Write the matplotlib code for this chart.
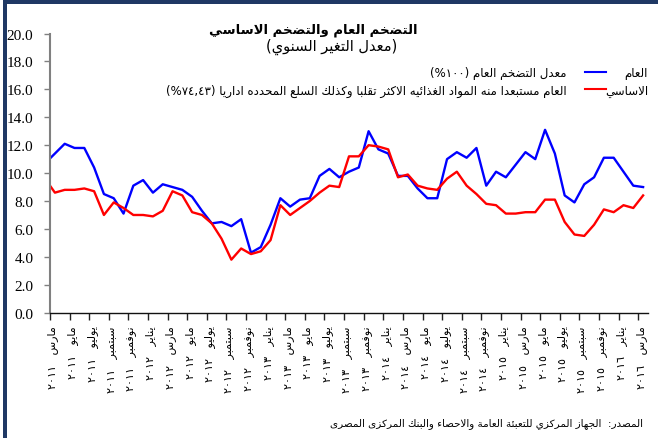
import matplotlib
matplotlib.use('Agg')
import matplotlib.pyplot as plt
from matplotlib.lines import Line2D
from matplotlib.patches import Rectangle
import numpy as np

# Arabic letter forms: isolated, final, initial, medial
FORMS = {
    'ء': ('\uFE80', None, None, None),
    'آ': ('\uFE81', '\uFE82', None, None),
    'أ': ('\uFE83', '\uFE84', None, None),
    'ؤ': ('\uFE85', '\uFE86', None, None),
    'إ': ('\uFE87', '\uFE88', None, None),
    'ئ': ('\uFE89', '\uFE8A', '\uFE8B', '\uFE8C'),
    'ا': ('\uFE8D', '\uFE8E', None, None),
    'ب': ('\uFE8F', '\uFE90', '\uFE91', '\uFE92'),
    'ة': ('\uFE93', '\uFE94', None, None),
    'ت': ('\uFE95', '\uFE96', '\uFE97', '\uFE98'),
    'ث': ('\uFE99', '\uFE9A', '\uFE9B', '\uFE9C'),
    'ج': ('\uFE9D', '\uFE9E', '\uFE9F', '\uFEA0'),
    'ح': ('\uFEA1', '\uFEA2', '\uFEA3', '\uFEA4'),
    'خ': ('\uFEA5', '\uFEA6', '\uFEA7', '\uFEA8'),
    'د': ('\uFEA9', '\uFEAA', None, None),
    'ذ': ('\uFEAB', '\uFEAC', None, None),
    'ر': ('\uFEAD', '\uFEAE', None, None),
    'ز': ('\uFEAF', '\uFEB0', None, None),
    'س': ('\uFEB1', '\uFEB2', '\uFEB3', '\uFEB4'),
    'ش': ('\uFEB5', '\uFEB6', '\uFEB7', '\uFEB8'),
    'ص': ('\uFEB9', '\uFEBA', '\uFEBB', '\uFEBC'),
    'ض': ('\uFEBD', '\uFEBE', '\uFEBF', '\uFEC0'),
    'ط': ('\uFEC1', '\uFEC2', '\uFEC3', '\uFEC4'),
    'ظ': ('\uFEC5', '\uFEC6', '\uFEC7', '\uFEC8'),
    'ع': ('\uFEC9', '\uFECA', '\uFECB', '\uFECC'),
    'غ': ('\uFECD', '\uFECE', '\uFECF', '\uFED0'),
    'ف': ('\uFED1', '\uFED2', '\uFED3', '\uFED4'),
    'ق': ('\uFED5', '\uFED6', '\uFED7', '\uFED8'),
    'ك': ('\uFED9', '\uFEDA', '\uFEDB', '\uFEDC'),
    'ل': ('\uFEDD', '\uFEDE', '\uFEDF', '\uFEE0'),
    'م': ('\uFEE1', '\uFEE2', '\uFEE3', '\uFEE4'),
    'ن': ('\uFEE5', '\uFEE6', '\uFEE7', '\uFEE8'),
    'ه': ('\uFEE9', '\uFEEA', '\uFEEB', '\uFEEC'),
    'و': ('\uFEED', '\uFEEE', None, None),
    'ى': ('\uFEEF', '\uFEF0', None, None),
    'ي': ('\uFEF1', '\uFEF2', '\uFEF3', '\uFEF4'),
}
LAMALEF = {'ا': ('\uFEFB', '\uFEFC'), 'أ': ('\uFEF7', '\uFEF8'),
           'إ': ('\uFEF9', '\uFEFA'), 'آ': ('\uFEF5', '\uFEF6')}
DIGITS = set('٠١٢٣٤٥٦٧٨٩0123456789')
MIRROR = {'(': ')', ')': '('}


def shape(text):
    items = []
    i = 0
    while i < len(text):
        c = text[i]
        if c == 'ل' and i + 1 < len(text) and text[i + 1] in LAMALEF:
            items.append(('la', text[i + 1]))
            i += 2
        else:
            items.append(c)
            i += 1

    def dual(it):
        return isinstance(it, str) and it in FORMS and FORMS[it][2] is not None

    def joins(it):
        return isinstance(it, tuple) or (it in FORMS and FORMS[it][1] is not None)

    out = []
    for n, it in enumerate(items):
        prev = items[n - 1] if n > 0 else None
        nxt = items[n + 1] if n + 1 < len(items) else None
        lp = prev is not None and dual(prev) and joins(it)
        if isinstance(it, tuple):
            iso, fin = LAMALEF[it[1]]
            out.append(fin if lp else iso)
            continue
        if it not in FORMS:
            out.append(it)
            continue
        ln = dual(it) and nxt is not None and joins(nxt)
        iso, fin, ini, med = FORMS[it]
        out.append(med if lp and ln else fin if lp else ini if ln else iso)
    return ''.join(out)


def ar(text):
    # shape letters, then lay the runs out right to left
    s = shape(text)
    runs = []
    i = 0
    while i < len(s):
        j = i
        if s[i] in DIGITS:
            while j < len(s) and (s[j] in DIGITS or (s[j] in ',.' and j + 1 < len(s) and s[j + 1] in DIGITS)):
                j += 1
            runs.append(s[i:j])
        else:
            while j < len(s) and s[j] not in DIGITS:
                j += 1
            runs.append(''.join(MIRROR.get(c, c) for c in reversed(s[i:j])))
        i = j
    return ''.join(reversed(runs))


# data: Feb 2011 .. Mar 2016 (Feb 2011 sits just left of the axis)
headline = [10.7, 11.4, 12.1, 11.8, 11.8, 10.4, 8.5, 8.2, 7.1, 9.1, 9.5, 8.6,
            9.2, 9.0, 8.8, 8.3, 7.3, 6.4, 6.5, 6.2, 6.7, 4.3, 4.7, 6.3,
            8.2, 7.6, 8.1, 8.2, 9.8, 10.3, 9.7, 10.1, 10.4, 13.0, 11.7, 11.4,
            9.8, 9.8, 8.9, 8.2, 8.2, 11.0, 11.5, 11.1, 11.8, 9.1, 10.1, 9.7,
            10.6, 11.5, 11.0, 13.1, 11.4, 8.4, 7.9, 9.2, 9.7, 11.1, 11.1, 10.1,
            9.1, 9.0]
core = [9.6, 8.6, 8.8, 8.8, 8.9, 8.7, 7.0, 7.9, 7.5, 7.0, 7.0, 6.9,
        7.3, 8.7, 8.4, 7.2, 7.0, 6.4, 5.3, 3.8, 4.6, 4.2, 4.4, 5.2,
        7.7, 7.0, 7.5, 8.0, 8.6, 9.1, 9.0, 11.2, 11.2, 12.0, 11.9, 11.7,
        9.7, 9.9, 9.1, 8.9, 8.8, 9.6, 10.1, 9.1, 8.5, 7.8, 7.7, 7.1,
        7.1, 7.2, 7.2, 8.1, 8.1, 6.5, 5.6, 5.5, 6.3, 7.4, 7.2, 7.7,
        7.5, 8.4]

label_months = ['مارس', 'مايو', 'يوليو', 'سبتمبر', 'نوفمبر', 'يناير']
label_years = ['٢٠١١', '٢٠١٢', '٢٠١٣', '٢٠١٤', '٢٠١٥', '٢٠١٦']

tick_labels = []
for n in range(31):
    tick_labels.append(ar(label_months[n % 6] + '   ' + label_years[(n + 1) // 6]))

title = 'التضخم العام والتضخم الاساسي'
subtitle = '(معدل التغير السنوي)'
name_head = 'العام'
name_core = 'الاساسي'
desc_head = 'معدل التضخم العام (١٠٠%)'
desc_core = 'العام مستبعدا منه المواد الغذائيه الاكثر تقلبا وكذلك السلع المحدده اداريا (٧٤,٤٣%)'
source = 'المصدر:  الجهاز المركزي للتعبئة العامة والاحصاء والبنك المركزى المصرى'

W, H = 658, 439
fig = plt.figure(figsize=(W / 100, H / 100), dpi=100)
ax = fig.add_axes([50 / W, 1 - 313.7 / H, 598 / W, 279.2 / H])

x = np.arange(-1, len(headline) - 1)
ax.plot(x, headline, color='#0000FF', lw=1.7)
ax.plot(x, core, color='#FF0000', lw=1.7)

ax.set_xlim(-0.5, 60.5)
ax.set_ylim(0, 20)
ax.set_yticks(np.arange(0, 21, 2))
ax.set_yticklabels(['%.1f' % v for v in np.arange(0, 21, 2)],
                   family='Liberation Serif', fontsize=11)
ax.tick_params(axis='y', length=4, width=1, color='#808080', pad=8)

ax.set_xticks(np.arange(0, 61, 2) - 0.2)
ax.set_xticklabels(tick_labels, rotation=90, fontsize=8, family='DejaVu Sans', va='top')
ax.set_xticks(np.arange(-0.5, 60, 2), minor=True)
ax.tick_params(axis='x', which='major', length=0, pad=9)
ax.tick_params(axis='x', which='minor', length=5, width=1, color='#222222')

for s in ['top', 'right']:
    ax.spines[s].set_visible(False)
ax.spines['left'].set_color('#808080')
ax.spines['left'].set_linewidth(1.5)
ax.spines['bottom'].set_color('#111111')
ax.spines['bottom'].set_linewidth(1)

fig.text(313 / W, 1 - 30 / H, ar(title), ha='center', va='center',
         fontsize=9.5, fontweight='bold', family='DejaVu Sans')
fig.text(332 / W, 1 - 47 / H, ar(subtitle), ha='center', va='center',
         fontsize=10.5, family='DejaVu Sans')

# legend
for yy, nm, ds, col in [(74, name_head, desc_head, '#0000FF'), (91, name_core, desc_core, '#FF0000')]:
    fig.text(648 / W, 1 - yy / H, ar(nm), ha='right', va='center', fontsize=8.5, family='DejaVu Sans')
    fig.add_artist(Line2D([585 / W, 606 / W], [1 - (yy - 1) / H, 1 - (yy - 1) / H],
                          color=col, lw=1.5, transform=fig.transFigure))
    fig.text(567 / W, 1 - yy / H, ar(ds), ha='right', va='center', fontsize=8.5, family='DejaVu Sans')

fig.text(643 / W, 1 - 424 / H, ar(source), ha='right', va='center', fontsize=7.5, family='DejaVu Sans')

# dark frame on the left and top
fig.add_artist(Rectangle((3 / W, 0), 4 / W, 1, transform=fig.transFigure, color='#1F3864', lw=0))
fig.add_artist(Rectangle((3 / W, 1 - 5 / H), 1, 4 / H, transform=fig.transFigure, color='#1F3864', lw=0))

fig.savefig('out.png', dpi=100)
